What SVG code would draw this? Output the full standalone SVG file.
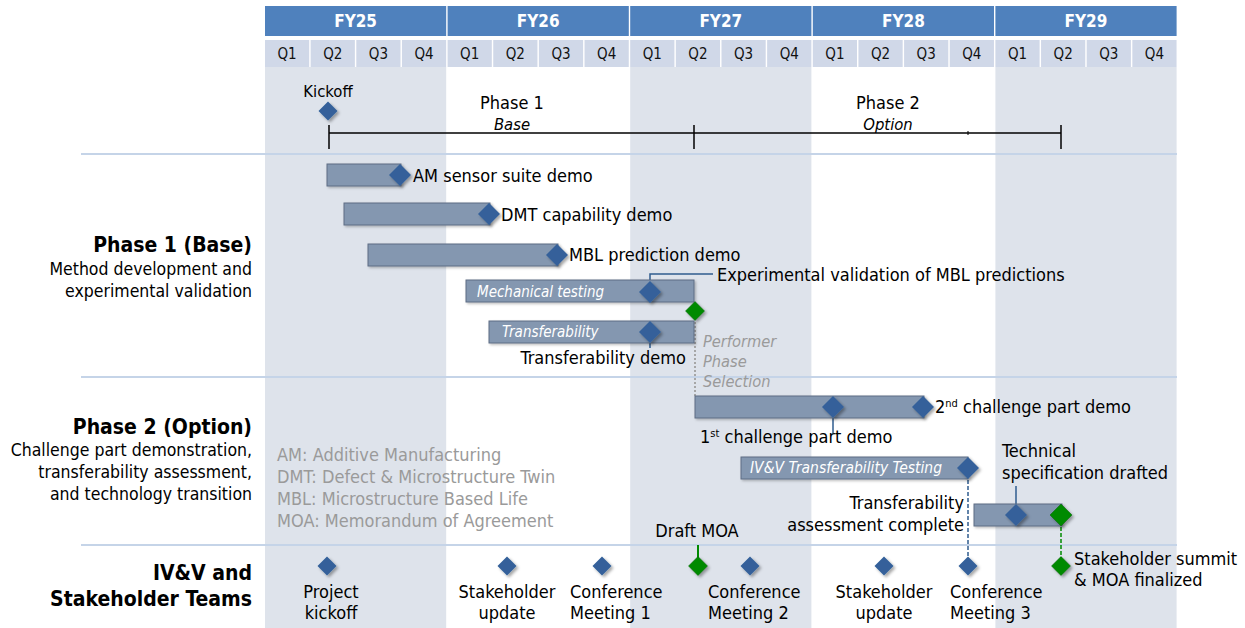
<svg xmlns="http://www.w3.org/2000/svg" width="1245" height="628" viewBox="0 0 1245 628">
<defs>
<filter id="sh" x="-50%" y="-50%" width="200%" height="200%">
<feDropShadow dx="2" dy="2" stdDeviation="1.5" flood-color="#000" flood-opacity="0.35"/>
</filter>
<filter id="bsh" x="-10%" y="-30%" width="120%" height="160%">
<feDropShadow dx="1.5" dy="1.5" stdDeviation="1" flood-color="#000" flood-opacity="0.25"/>
</filter>
<path id="dm" d="M0,-11 L11,0 L0,11 L-11,0 Z"/>
<path id="ds" d="M0,-9.5 L9.5,0 L0,9.5 L-9.5,0 Z"/>
</defs>
<style>
text{font-family:"DejaVu Sans Condensed","DejaVu Sans",Verdana,sans-serif;fill:#000}
.fy{font-size:17px;font-weight:bold;fill:#fff;text-anchor:middle}
.q{font-size:15px;text-anchor:middle;fill:#111}
.lb{font-size:18px}
.bt{font-size:18px}
.hd{font-size:21px;font-weight:bold;text-anchor:end}
.ds{font-size:17.5px;text-anchor:end}
.lg{font-size:18px;fill:#9a9a9a}
.bi{font-size:15px;font-style:italic;fill:#fff}
.gi{font-size:16.3px;font-style:italic;fill:#9a9a9a}
.mid{text-anchor:middle}
.end{text-anchor:end}
.bar{fill:#8497b0;stroke:#5d6d84;stroke-width:1;filter:url(#bsh)}
.db{fill:#34609a;filter:url(#sh)}
.dg{fill:#008a00;stroke:#006400;stroke-width:0.5;filter:url(#sh)}
.sep{stroke:#c5d4e8;stroke-width:2}
.ld{stroke:#2f5c8f;stroke-width:1.5;fill:none}
</style>
<rect width="1245" height="628" fill="#fff"/>
<g id="background">
<rect x="265" y="67" width="181.2" height="561" fill="#dee3eb"/>
<rect x="630.2" y="67" width="181.2" height="561" fill="#dee3eb"/>
<rect x="995.4" y="67" width="181.2" height="561" fill="#dee3eb"/>
<line class="sep" x1="81" y1="154" x2="1177" y2="154"/>
<line class="sep" x1="81" y1="377" x2="1177" y2="377"/>
<line class="sep" x1="81" y1="545" x2="1177" y2="545"/>
</g>
<g id="header">
<g fill="#4f81bd">
<rect x="265" y="6" width="181.2" height="30"/>
<rect x="447.6" y="6" width="181.2" height="30"/>
<rect x="630.2" y="6" width="181.2" height="30"/>
<rect x="812.8" y="6" width="181.2" height="30"/>
<rect x="995.4" y="6" width="181.2" height="30"/>
</g>
<text class="fy" x="355.6" y="27">FY25</text>
<text class="fy" x="538.2" y="27">FY26</text>
<text class="fy" x="720.8" y="27">FY27</text>
<text class="fy" x="903.4" y="27">FY28</text>
<text class="fy" x="1086" y="27">FY29</text>
<g fill="#d0d8e8">
<rect x="265" y="40" width="44.2" height="27"/><rect x="310.65" y="40" width="44.2" height="27"/><rect x="356.3" y="40" width="44.2" height="27"/><rect x="401.95" y="40" width="44.2" height="27"/>
<rect x="447.6" y="40" width="44.2" height="27"/><rect x="493.25" y="40" width="44.2" height="27"/><rect x="538.9" y="40" width="44.2" height="27"/><rect x="584.55" y="40" width="44.2" height="27"/>
<rect x="630.2" y="40" width="44.2" height="27"/><rect x="675.85" y="40" width="44.2" height="27"/><rect x="721.5" y="40" width="44.2" height="27"/><rect x="767.15" y="40" width="44.2" height="27"/>
<rect x="812.8" y="40" width="44.2" height="27"/><rect x="858.45" y="40" width="44.2" height="27"/><rect x="904.1" y="40" width="44.2" height="27"/><rect x="949.75" y="40" width="44.2" height="27"/>
<rect x="995.4" y="40" width="44.2" height="27"/><rect x="1041.05" y="40" width="44.2" height="27"/><rect x="1086.7" y="40" width="44.2" height="27"/><rect x="1132.35" y="40" width="44.2" height="27"/>
</g>
<g>
<text class="q" x="287.1" y="59">Q1</text><text class="q" x="332.75" y="59">Q2</text><text class="q" x="378.4" y="59">Q3</text><text class="q" x="424.05" y="59">Q4</text>
<text class="q" x="469.7" y="59">Q1</text><text class="q" x="515.35" y="59">Q2</text><text class="q" x="561" y="59">Q3</text><text class="q" x="606.65" y="59">Q4</text>
<text class="q" x="652.3" y="59">Q1</text><text class="q" x="697.95" y="59">Q2</text><text class="q" x="743.6" y="59">Q3</text><text class="q" x="789.25" y="59">Q4</text>
<text class="q" x="834.9" y="59">Q1</text><text class="q" x="880.55" y="59">Q2</text><text class="q" x="926.2" y="59">Q3</text><text class="q" x="971.85" y="59">Q4</text>
<text class="q" x="1017.5" y="59">Q1</text><text class="q" x="1063.15" y="59">Q2</text><text class="q" x="1108.8" y="59">Q3</text><text class="q" x="1154.45" y="59">Q4</text>
</g>
</g>
<g id="phase-timeline">
<g stroke="#000" stroke-width="1.5">
<line x1="329" y1="133" x2="1061" y2="133"/>
<line x1="329" y1="125" x2="329" y2="149"/>
<line x1="694" y1="125" x2="694" y2="149"/>
<line x1="1061" y1="125" x2="1061" y2="149"/>
<line x1="968" y1="131" x2="968" y2="135" stroke-width="1"/>
</g>
<text x="328" y="97" class="mid" style="font-size:16.5px">Kickoff</text>
<use href="#ds" x="328" y="111" class="db"/>
<text x="512" y="109" class="mid lb">Phase 1</text>
<text x="512" y="130" class="mid" style="font-size:16.5px;font-style:italic">Base</text>
<text x="888" y="109" class="mid lb">Phase 2</text>
<text x="888" y="130" class="mid" style="font-size:16.5px;font-style:italic">Option</text>
</g>
<g id="row-labels">
<text class="hd" x="252" y="252">Phase 1 (Base)</text>
<text class="ds" x="252" y="275">Method development and</text>
<text class="ds" x="252" y="297">experimental validation</text>
<text class="hd" x="252" y="434">Phase 2 (Option)</text>
<text class="ds" x="252" y="456">Challenge part demonstration,</text>
<text class="ds" x="252" y="478">transferability assessment,</text>
<text class="ds" x="252" y="500">and technology transition</text>
<text class="hd" x="252" y="580">IV&amp;V and</text>
<text class="hd" x="252" y="606">Stakeholder Teams</text>
</g>
<g id="legend">
<text class="lg" x="277" y="461">AM: Additive Manufacturing</text>
<text class="lg" x="277" y="483">DMT: Defect &amp; Microstructure Twin</text>
<text class="lg" x="277" y="505">MBL: Microstructure Based Life</text>
<text class="lg" x="277" y="527">MOA: Memorandum of Agreement</text>
</g>
<g id="connectors">
<polyline class="ld" points="650,292 650,274 713,274"/>
<line class="ld" x1="650" y1="332" x2="650" y2="348"/>
<line class="ld" x1="833" y1="407" x2="833" y2="434"/>
<line class="ld" x1="1016" y1="515" x2="1016" y2="486"/>
<line x1="695" y1="322" x2="695" y2="396" stroke="#a6a6a6" stroke-width="2" stroke-dasharray="2,2"/>
<line x1="968" y1="468" x2="968" y2="565" stroke="#2f5c8f" stroke-width="1.5" stroke-dasharray="4,2"/>
<line x1="1061" y1="515" x2="1061" y2="565" stroke="#008a00" stroke-width="1.5" stroke-dasharray="4,2"/>
<line x1="698" y1="545" x2="698" y2="560" stroke="#008a00" stroke-width="2"/>
</g>
<g id="am-sensor">
<rect class="bar" x="327" y="164" width="74" height="22"/>
<use href="#dm" x="400" y="175" class="db"/>
<text class="lb" x="413" y="182">AM sensor suite demo</text>
</g>
<g id="dmt-demo">
<rect class="bar" x="344" y="203" width="146" height="22"/>
<use href="#dm" x="489" y="214" class="db"/>
<text class="lb" x="501" y="221">DMT capability demo</text>
</g>
<g id="mbl-demo">
<rect class="bar" x="368" y="244" width="190" height="22"/>
<use href="#dm" x="557" y="255" class="db"/>
<text class="lb" x="569" y="261">MBL prediction demo</text>
</g>
<g id="mechanical-testing">
<rect class="bar" x="466" y="280" width="228" height="22"/>
<text class="bi" x="477" y="297">Mechanical testing</text>
<use href="#dm" x="650" y="292" class="db"/>
<text class="lb" x="717" y="281">Experimental validation of MBL predictions</text>
</g>
<g id="performer-selection">
<use href="#ds" x="695" y="311" class="dg"/>
<text class="gi" x="703" y="347">Performer</text>
<text class="gi" x="703" y="367">Phase</text>
<text class="gi" x="703" y="387">Selection</text>
</g>
<g id="transferability">
<rect class="bar" x="489" y="321" width="205" height="22"/>
<text class="bi" x="502" y="337">Transferability</text>
<use href="#dm" x="650" y="332" class="db"/>
<text class="lb end" x="686" y="364">Transferability demo</text>
</g>
<g id="challenge-part">
<rect class="bar" x="695" y="396" width="229" height="22"/>
<use href="#dm" x="833" y="407" class="db"/>
<use href="#dm" x="923" y="407" class="db"/>
<text class="lb" x="935" y="413">2<tspan dy="-6" style="font-size:11px">nd</tspan><tspan dy="6"> challenge part demo</tspan></text>
<text class="lb" x="700" y="443">1<tspan dy="-6" style="font-size:11px">st</tspan><tspan dy="6"> challenge part demo</tspan></text>
</g>
<g id="ivv-testing">
<rect class="bar" x="741" y="457" width="227" height="22"/>
<text class="bi" x="750" y="473" style="font-size:15.5px">IV&amp;V Transferability Testing</text>
<use href="#dm" x="968" y="468" class="db"/>
<text class="lb end" x="964" y="509">Transferability</text>
<text class="lb end" x="964" y="531">assessment complete</text>
</g>
<g id="tech-spec">
<rect class="bar" x="974" y="504" width="88" height="22"/>
<use href="#dm" x="1016" y="515" class="db"/>
<use href="#dm" x="1061" y="515" class="dg"/>
<text class="lb" x="1002" y="457">Technical</text>
<text class="lb" x="1002" y="479">specification drafted</text>
</g>
<g id="team-milestones">
<g id="project-kickoff"><use href="#ds" x="327" y="566" class="db"/><text class="bt mid" x="331" y="598">Project</text><text class="bt mid" x="331" y="619">kickoff</text></g>
<g id="stakeholder-update-1"><use href="#ds" x="507" y="566" class="db"/><text class="bt mid" x="507" y="598">Stakeholder</text><text class="bt mid" x="507" y="619">update</text></g>
<g id="conference-1"><use href="#ds" x="602" y="566" class="db"/><text class="bt" x="570" y="598">Conference</text><text class="bt" x="570" y="619">Meeting 1</text></g>
<g id="draft-moa"><use href="#ds" x="698" y="566" class="dg"/><text class="bt mid" x="697" y="537">Draft MOA</text></g>
<g id="conference-2"><use href="#ds" x="750" y="566" class="db"/><text class="bt" x="708" y="598">Conference</text><text class="bt" x="708" y="619">Meeting 2</text></g>
<g id="stakeholder-update-2"><use href="#ds" x="884" y="566" class="db"/><text class="bt mid" x="884" y="598">Stakeholder</text><text class="bt mid" x="884" y="619">update</text></g>
<g id="conference-3"><use href="#ds" x="968" y="566" class="db"/><text class="bt" x="950" y="598">Conference</text><text class="bt" x="950" y="619">Meeting 3</text></g>
<g id="stakeholder-summit"><use href="#ds" x="1061" y="566" class="dg"/><text class="bt" x="1074" y="565">Stakeholder summit</text><text class="bt" x="1074" y="586">&amp; MOA finalized</text></g>
</g>
</svg>
